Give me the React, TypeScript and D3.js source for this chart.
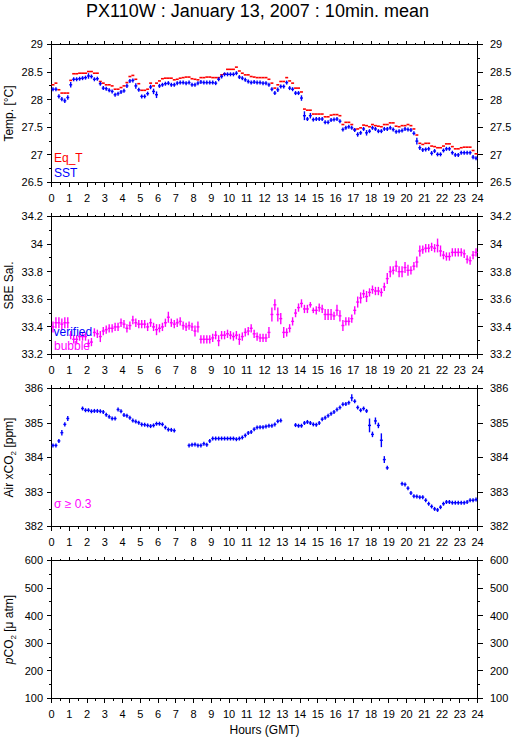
import React from "react";
import * as d3 from "d3";

// ---------- DATA (10-minute means, 144 per day) ----------
const HOURS = d3.range(0, 25); // x tick labels 0..24
const STEPS_PER_HOUR = 6;

const EQ_T = [
  28.27, 28.30, 28.18, 28.12, 28.12, 28.12,
  28.35, 28.47, 28.47, 28.48, 28.48, 28.48,
  28.51, 28.51, 28.48, 28.48, 28.33, 28.30,
  28.27, 28.27, 28.25, 28.19, 28.19, 28.22,
  28.25, 28.31, 28.42, 28.44, 28.37, 28.29,
  28.17, 28.17, 28.19, 28.30, 28.25, 28.30,
  28.34, 28.38, 28.39, 28.39, 28.39, 28.36,
  28.37, 28.39, 28.40, 28.41, 28.41, 28.38,
  28.37, 28.36, 28.40, 28.40, 28.41, 28.41,
  28.40, 28.40, 28.40, 28.45, 28.47, 28.55,
  28.55, 28.55, 28.59, 28.52, 28.48, 28.45,
  28.45, 28.42, 28.41, 28.40, 28.40, 28.40,
  28.40, 28.37, 28.30, 28.21, 28.27, 28.33,
  28.33, 28.40, 28.34, 28.30, 28.21, 28.21,
  28.14, 27.83, 27.81, 27.81, 27.74, 27.74,
  27.74, 27.74, 27.69, 27.69, 27.72, 27.73,
  27.73, 27.71, 27.55, 27.59, 27.59, 27.55,
  27.46, 27.47, 27.49, 27.54, 27.53, 27.51,
  27.55, 27.53, 27.52, 27.51, 27.55, 27.55,
  27.58, 27.58, 27.52, 27.51, 27.53, 27.53,
  27.55, 27.53, 27.47, 27.36, 27.21, 27.19,
  27.21, 27.21, 27.16, 27.15, 27.13, 27.13,
  27.16, 27.20, 27.20, 27.15, 27.11, 27.11,
  27.13, 27.14, 27.14, 27.14, 27.08, 27.02,
];

const SST = [
  28.19, 28.19, 28.06, 28.01, 27.98, 28.04,
  28.27, 28.37, 28.37, 28.38, 28.39, 28.40,
  28.43, 28.42, 28.37, 28.38, 28.29, 28.21,
  28.20, 28.17, 28.15, 28.09, 28.11, 28.14,
  28.16, 28.25, 28.34, 28.35, 28.25, 28.18,
  28.06, 28.06, 28.11, 28.23, 28.15, 28.09,
  28.25, 28.27, 28.29, 28.30, 28.27, 28.27,
  28.30, 28.31, 28.31, 28.30, 28.31, 28.27,
  28.27, 28.30, 28.32, 28.31, 28.31, 28.31,
  28.31, 28.30, 28.37, 28.42, 28.46, 28.46,
  28.46, 28.46, 28.48, 28.41, 28.39, 28.36,
  28.33, 28.31, 28.32, 28.31, 28.31, 28.30,
  28.30, 28.27, 28.19, 28.12, 28.18, 28.24,
  28.24, 28.31, 28.21, 28.19, 28.12, 28.12,
  28.03, 27.71, 27.65, 27.71, 27.64, 27.65,
  27.65, 27.65, 27.59, 27.59, 27.63, 27.64,
  27.65, 27.61, 27.46, 27.49, 27.51, 27.49,
  27.45, 27.37, 27.40, 27.47, 27.40, 27.43,
  27.49, 27.47, 27.43, 27.43, 27.47, 27.47,
  27.49, 27.46, 27.42, 27.43, 27.44, 27.47,
  27.46, 27.45, 27.39, 27.25, 27.13, 27.09,
  27.10, 27.11, 27.03, 27.07, 27.01, 27.01,
  27.08, 27.11, 27.11, 27.04, 27.00, 27.00,
  27.04, 27.04, 27.04, 27.04, 26.96, 26.94,
];

const SST_SD = [
  .03, .03, .04, .04, .04, .04,
  .05, .02, .02, .02, .02, .02,
  .05, .03, .02, .02, .03, .02,
  .02, .02, .03, .02, .02, .03,
  .02, .04, .03, .03, .05, .02,
  .02, .02, .02, .04, .05, .06,
  .03, .02, .02, .02, .03, .02,
  .02, .02, .02, .02, .02, .02,
  .02, .02, .02, .02, .02, .02,
  .02, .02, .03, .03, .02, .02,
  .02, .02, .02, .03, .02, .02,
  .02, .02, .02, .02, .02, .02,
  .02, .02, .03, .03, .04, .03,
  .03, .02, .02, .02, .02, .02,
  .05, .08, .03, .05, .02, .02,
  .02, .02, .03, .02, .02, .02,
  .02, .03, .03, .02, .02, .02,
  .03, .04, .02, .03, .05, .02,
  .02, .02, .02, .02, .02, .02,
  .02, .02, .02, .02, .02, .02,
  .02, .02, .03, .06, .04, .03,
  .02, .02, .04, .02, .03, .02,
  .02, .02, .02, .03, .03, .02,
  .02, .02, .02, .02, .04, .02,
];

const SAL = [
  33.40, 33.43, 33.43, 33.42, 33.43, 33.43,
  33.34, 33.31, 33.31, 33.33, 33.33, 33.33,
  33.28, 33.29, 33.36, 33.35, 33.33, 33.37,
  33.38, 33.39, 33.39, 33.40, 33.40, 33.43,
  33.42, 33.39, 33.41, 33.45, 33.43, 33.42,
  33.42, 33.42, 33.40, 33.43, 33.40, 33.38,
  33.39, 33.40, 33.43, 33.47, 33.43, 33.42,
  33.43, 33.44, 33.41, 33.40, 33.41, 33.40,
  33.37, 33.40, 33.31, 33.31, 33.31, 33.31,
  33.32, 33.34, 33.30, 33.34, 33.34, 33.35,
  33.34, 33.33, 33.34, 33.31, 33.33, 33.36,
  33.37, 33.39, 33.35, 33.33, 33.32, 33.32,
  33.32, 33.36, 33.49, 33.56, 33.49, 33.46,
  33.36, 33.36, 33.39, 33.44, 33.50, 33.54,
  33.57, 33.53, 33.53, 33.56, 33.52, 33.52,
  33.54, 33.53, 33.49, 33.49, 33.49, 33.48,
  33.52, 33.48, 33.41, 33.44, 33.44, 33.46,
  33.52, 33.58, 33.61, 33.64, 33.62, 33.65,
  33.67, 33.66, 33.66, 33.65, 33.69, 33.75,
  33.80, 33.81, 33.84, 33.80, 33.80, 33.83,
  33.81, 33.81, 33.84, 33.87, 33.95, 33.96,
  33.97, 33.97, 33.98, 33.97, 33.99, 33.95,
  33.92, 33.91, 33.91, 33.94, 33.94, 33.94,
  33.94, 33.93, 33.89, 33.88, 33.92, 33.94,
];

const SAL_SD = [
  .04, .04, .04, .04, .04, .04,
  .03, .03, .03, .03, .03, .03,
  .03, .03, .03, .03, .04, .03,
  .03, .03, .03, .03, .03, .03,
  .03, .03, .03, .03, .03, .03,
  .03, .03, .03, .03, .03, .04,
  .03, .03, .03, .04, .03, .03,
  .03, .03, .03, .03, .03, .03,
  .04, .04, .03, .03, .03, .03,
  .03, .03, .04, .03, .03, .03,
  .03, .03, .03, .04, .03, .03,
  .03, .03, .03, .03, .03, .03,
  .03, .04, .05, .04, .05, .04,
  .04, .03, .03, .03, .03, .03,
  .03, .03, .03, .02, .02, .03,
  .03, .03, .04, .04, .04, .03,
  .04, .04, .04, .03, .03, .03,
  .03, .04, .04, .03, .04, .03,
  .03, .03, .03, .03, .03, .04,
  .04, .03, .04, .04, .04, .04,
  .04, .03, .03, .04, .04, .03,
  .03, .03, .03, .03, .05, .04,
  .03, .03, .03, .03, .03, .03,
  .03, .03, .03, .03, .03, .03,
];

const N = null;
const XCO2 = [
  384.35, 384.35, 384.48, 384.72, 384.96, 385.13,
  N, N, N, N, 385.42, 385.37,
  385.37, 385.34, 385.35, 385.35, 385.34, 385.32,
  385.24, 385.18, 385.13, 385.13, 385.39, 385.34,
  385.23, 385.21, 385.15, 385.07, 385.04, 385.01,
  384.96, 384.95, 384.93, 384.91, 384.93, 384.98,
  384.98, 384.96, 384.87, 384.81, 384.80, 384.78,
  N, N, N, N, 384.35, 384.37,
  384.38, 384.35, 384.35, 384.40, 384.37, 384.48,
  384.55, 384.55, 384.55, 384.55, 384.55, 384.55,
  384.55, 384.55, 384.53, 384.55, 384.58, 384.64,
  384.71, 384.74, 384.82, 384.87, 384.88, 384.88,
  384.90, 384.92, 384.92, 384.96, 385.05, 385.07,
  N, N, N, N, 384.94, 384.92,
  384.92, 385.00, 385.03, 385.00, 384.96, 384.95,
  385.00, 385.11, 385.15, 385.21, 385.27, 385.32,
  385.39, 385.45, 385.54, 385.55, 385.59, 385.73,
  385.63, 385.45, 385.37, 385.42, 385.35, 384.93,
  384.67, 385.06, 384.93, 384.50, 383.94, 383.70,
  N, N, N, N, 383.24, 383.22,
  383.11, 382.97, 382.88, 382.87, 382.85, 382.85,
  382.76, 382.66, 382.58, 382.51, 382.48, 382.56,
  382.66, 382.71, 382.71, 382.69, 382.69, 382.69,
  382.69, 382.69, 382.71, 382.76, 382.76, 382.78,
];

const XCO2_SD = [
  .02, .02, .05, .08, .06, .07,
  0, 0, 0, 0, .04, .03,
  .02, .02, .02, .02, .02, .03,
  .02, .02, .02, .02, .06, .04,
  .02, .02, .02, .02, .02, .02,
  .02, .02, .02, .02, .02, .02,
  .02, .02, .02, .02, .02, .02,
  0, 0, 0, 0, .02, .02,
  .02, .02, .02, .02, .02, .04,
  .02, .02, .02, .02, .02, .02,
  .02, .02, .02, .02, .02, .02,
  .02, .02, .02, .02, .02, .02,
  .02, .02, .02, .02, .03, .04,
  0, 0, 0, 0, .04, .02,
  .02, .03, .04, .02, .02, .02,
  .02, .04, .02, .02, .02, .02,
  .02, .02, .03, .02, .02, .10,
  .05, .04, .03, .02, .03, .20,
  .08, .10, .08, .20, .10, .05,
  0, 0, 0, 0, .02, .03,
  .03, .03, .02, .02, .02, .02,
  .02, .02, .02, .02, .02, .02,
  .03, .02, .02, .02, .02, .02,
  .02, .02, .02, .02, .02, .02,
];

const TEMP_TICKS = [26.5, 27, 27.5, 28, 28.5, 29];
const SAL_TICKS = [33.2, 33.4, 33.6, 33.8, 34, 34.2];
const CO2_TICKS = [382, 383, 384, 385, 386];
const PCO2_TICKS = [100, 200, 300, 400, 500, 600];

// ---------- LAYOUT ----------
const W = 515;
const H = 739;
const X0 = 51.5;
const X1 = 477.5;
const PANEL_TOPS = [44.5, 216.5, 388.5, 560.5];
const PANEL_H = 138;
const FONT = "'Liberation Sans', Arial, Helvetica, sans-serif";
const RED = "#ff0000";
const BLUE = "#0000ff";
const MAGENTA = "#ff00ff";
const CROSS_HALF = 2; // minimum half-height of the "+" marker, px

const x = d3.scaleLinear().domain([0, 24]).range([X0, X1]);

type Series = { values: (number | null)[]; sd?: number[]; color: string; bars: boolean; width: number };

function fmt(v: number) {
  return String(Number(v.toFixed(2)));
}

function Panel({
  top,
  ticks,
  label,
  series,
  children,
}: {
  top: number;
  ticks: number[];
  label: React.ReactNode;
  series: Series[];
  children?: React.ReactNode;
}) {
  const bottom = top + PANEL_H;
  const y = d3.scaleLinear().domain([ticks[0], ticks[ticks.length - 1]]).range([bottom, top]);
  const minor = ticks.slice(1).map((t, i) => (t + ticks[i]) / 2);
  const halfTicks = HOURS.slice(1).map((h) => h - 0.5);
  const mid = (top + bottom) / 2;

  return (
    <g>
      <rect x={X0} y={top} width={X1 - X0} height={PANEL_H} fill="#fff" stroke="#000" strokeWidth={1} shapeRendering="crispEdges" />
      <g stroke="#000" strokeWidth={1} shapeRendering="crispEdges">
        {HOURS.map((h) => (
          <g key={"h" + h}>
            <line x1={x(h)} x2={x(h)} y1={top} y2={top - 4} />
            <line x1={x(h)} x2={x(h)} y1={bottom} y2={bottom + 4} />
          </g>
        ))}
        {halfTicks.map((h) => (
          <g key={"m" + h}>
            <line x1={x(h)} x2={x(h)} y1={top} y2={top - 2} />
            <line x1={x(h)} x2={x(h)} y1={bottom} y2={bottom + 2} />
          </g>
        ))}
        {ticks.map((t) => (
          <g key={"yt" + t}>
            <line x1={X0 - 5} x2={X0} y1={y(t)} y2={y(t)} />
            <line x1={X1} x2={X1 + 5} y1={y(t)} y2={y(t)} />
          </g>
        ))}
        {minor.map((t) => (
          <g key={"ym" + t}>
            <line x1={X0 - 2.5} x2={X0} y1={y(t)} y2={y(t)} />
            <line x1={X1} x2={X1 + 2.5} y1={y(t)} y2={y(t)} />
          </g>
        ))}
      </g>
      <g fontFamily={FONT} fontSize={11} fill="#000">
        {ticks.map((t) => (
          <g key={"yl" + t}>
            <text x={X0 - 8.5} y={y(t)} dy="0.36em" textAnchor="end">{fmt(t)}</text>
            <text x={X1 + 12.5} y={y(t)} dy="0.36em" textAnchor="start">{fmt(t)}</text>
          </g>
        ))}
        {HOURS.map((h) => (
          <text key={"xl" + h} x={x(h)} y={bottom + 19.5} textAnchor="middle">{h}</text>
        ))}
      </g>
      <text
        transform={`translate(13,${mid}) rotate(-90)`}
        textAnchor="middle"
        fontFamily={FONT}
        fontSize={12}
        fill="#000"
      >
        {label}
      </text>
      <g>
        {series.map((s, si) =>
          s.values.map((v, i) => {
            if (v === null || v === undefined) return null;
            const t0 = i / STEPS_PER_HOUR;
            const t1 = (i + 1) / STEPS_PER_HOUR;
            const tc = (i + 0.5) / STEPS_PER_HOUR;
            const sd = s.sd ? s.sd[i] : 0;
            const yv = y(v);
            const half = Math.max(CROSS_HALF, Math.abs(y(v + sd) - yv));
            return (
              <g key={si + "-" + i} stroke={s.color} strokeWidth={s.width}>
                <line x1={x(t0)} x2={x(t1)} y1={yv} y2={yv} />
                {s.bars ? (
                  <line x1={x(tc)} x2={x(tc)} y1={yv - half} y2={yv + half} />
                ) : null}
              </g>
            );
          })
        )}
      </g>
      {children}
    </g>
  );
}

export default function App() {
  return (
    <svg
      width={W}
      height={H}
      viewBox={`0 0 ${W} ${H}`}
      style={{ position: "absolute", left: 0, top: 0, background: "#fff" }}
    >
      <rect x={0} y={0} width={W} height={H} fill="#fff" />
      <text x={W / 2} y={17} textAnchor="middle" fontFamily={FONT} fontSize={18} fill="#000">
        PX110W : January 13, 2007 : 10min. mean
      </text>

      <Panel
        top={PANEL_TOPS[0]}
        ticks={TEMP_TICKS}
        label={"Temp. [°C]"}
        series={[
          { values: EQ_T, color: RED, bars: false, width: 1.6 },
          { values: SST, sd: SST_SD, color: BLUE, bars: true, width: 1.4 },
        ]}
      >
        <text x={54} y={162} fontFamily={FONT} fontSize={12} fill={RED}>Eq_T</text>
        <text x={54} y={176.5} fontFamily={FONT} fontSize={12} fill={BLUE}>SST</text>
      </Panel>

      <Panel
        top={PANEL_TOPS[1]}
        ticks={SAL_TICKS}
        label={"SBE Sal."}
        series={[{ values: SAL, sd: SAL_SD, color: MAGENTA, bars: true, width: 1.4 }]}
      >
        <text x={53.5} y={336} fontFamily={FONT} fontSize={12} fill={BLUE}>verified</text>
        <text x={54} y={349.5} fontFamily={FONT} fontSize={12} fill={MAGENTA}>bubble</text>
      </Panel>

      <Panel
        top={PANEL_TOPS[2]}
        ticks={CO2_TICKS}
        label={
          <>
            Air xCO<tspan fontSize={8} dy={3}>2</tspan>
            <tspan dy={-3}> [ppm]</tspan>
          </>
        }
        series={[{ values: XCO2, sd: XCO2_SD, color: BLUE, bars: true, width: 1.4 }]}
      >
        <text x={54} y={508} fontFamily={FONT} fontSize={12} fill={MAGENTA}>σ ≥ 0.3</text>
      </Panel>

      <Panel
        top={PANEL_TOPS[3]}
        ticks={PCO2_TICKS}
        label={
          <>
            <tspan fontStyle="italic">p</tspan>CO<tspan fontSize={8} dy={3}>2</tspan>
            <tspan dy={-3}> [μ atm]</tspan>
          </>
        }
        series={[]}
      />

      <text x={(X0 + X1) / 2} y={734} textAnchor="middle" fontFamily={FONT} fontSize={12} fill="#000">
        Hours (GMT)
      </text>
    </svg>
  );
}
